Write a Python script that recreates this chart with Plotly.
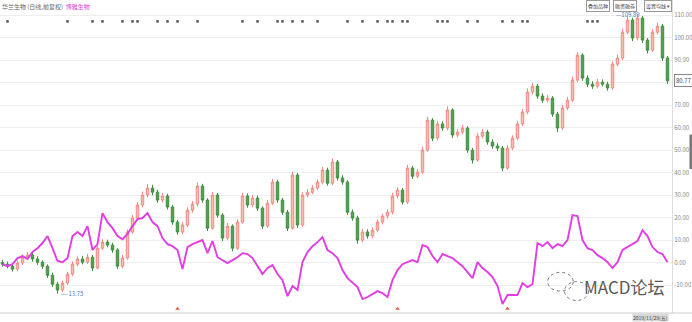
import plotly.graph_objects as go

# ---------------- data ----------------
price_open = [0.0, -0.7, -1.6, -2.9, -0.2, 2.4, 3.3, 1.6, 0.2, -1.6,
 -5.6, -9.6, -12.2, -9.1, -5.1, -0.7, 1.6, 0.2, 2.4, -2.4,
 6.4, 9.1, 7.8, 5.6, -1.6, 2.0, 13.6, 19.8, 25.6, 30.0,
 33.1, 31.3, 27.8, 29.6, 24.7, 18.0, 13.6, 16.7, 23.3, 26.0,
 34.0, 27.8, 15.3, 30.0, 21.1, 10.9, 16.2, 6.4, 18.0, 29.6,
 25.6, 28.7, 24.2, 16.2, 26.4, 35.8, 27.8, 22.4, 15.3, 38.9,
 16.7, 30.0, 31.3, 33.1, 35.8, 41.1, 35.3, 44.7, 37.6, 35.8,
 22.4, 19.8, 10.0, 13.6, 11.8, 14.4, 18.0, 20.7, 22.4, 29.6,
 32.2, 26.9, 42.0, 38.4, 40.2, 50.0, 63.3, 55.3, 61.6, 59.8,
 67.8, 56.7, 58.0, 59.8, 50.0, 45.6, 56.2, 58.0, 53.6, 51.8,
 50.9, 42.0, 50.9, 55.3, 61.6, 66.9, 75.8, 78.4, 74.0, 72.2,
 73.1, 66.0, 59.8, 68.7, 72.2, 81.1, 92.2, 82.0, 79.3, 78.4,
 80.2, 79.3, 77.6, 88.2, 90.9, 102.4, 107.8, 99.8, 108.7, 98.9,
 94.4, 102.4, 105.1, 90.9]

price_close = [-0.7, -1.6, -2.9, -0.2, 2.4, 3.3, 1.6, 0.2, -1.6, -5.6,
 -9.6, -12.2, -9.1, -5.1, -0.7, 1.6, 0.2, 2.4, -2.4, 6.4,
 9.1, 7.8, 5.6, -1.6, 2.0, 13.6, 19.8, 25.6, 30.0, 33.1,
 31.3, 27.8, 29.6, 24.7, 18.0, 13.6, 16.7, 23.3, 26.0, 34.0,
 27.8, 15.3, 30.0, 21.1, 10.9, 16.2, 6.4, 18.0, 29.6, 25.6,
 28.7, 24.2, 16.2, 26.4, 35.8, 27.8, 22.4, 15.3, 38.9, 16.7,
 30.0, 31.3, 33.1, 35.8, 41.1, 35.3, 44.7, 37.6, 35.8, 22.4,
 19.8, 10.0, 13.6, 11.8, 14.4, 18.0, 20.7, 22.4, 29.6, 32.2,
 26.9, 42.0, 38.4, 40.2, 50.0, 63.3, 55.3, 61.6, 59.8, 67.8,
 56.7, 58.0, 59.8, 50.0, 45.6, 56.2, 58.0, 53.6, 51.8, 50.9,
 42.0, 50.9, 55.3, 61.6, 66.9, 75.8, 78.4, 74.0, 72.2, 73.1,
 66.0, 59.8, 68.7, 72.2, 81.1, 92.2, 82.0, 79.3, 78.4, 80.2,
 79.3, 77.6, 88.2, 90.9, 102.4, 107.8, 99.8, 108.7, 98.9, 94.4,
 102.4, 105.1, 90.9, 80.77]

price_high = [1.2, 0.5, -0.8, 1.0, 3.6, 4.8, 4.2, 2.8, 1.0, -0.8,
 -4.5, -8.6, -8.0, -4.0, 0.6, 2.8, 3.0, 3.8, 3.4, 7.6,
 10.4, 10.2, 8.8, 6.4, 3.4, 14.8, 21.2, 27.0, 31.6, 34.8,
 34.6, 32.4, 31.0, 30.6, 25.6, 19.0, 18.0, 24.6, 27.4, 35.6,
 35.0, 28.6, 31.4, 31.0, 22.0, 17.6, 17.0, 19.4, 31.0, 30.8,
 30.0, 29.8, 25.0, 27.8, 37.2, 36.8, 28.8, 23.4, 40.4, 39.8,
 31.2, 32.6, 34.4, 37.0, 42.6, 42.2, 46.4, 45.6, 38.8, 36.6,
 23.6, 20.8, 15.0, 14.8, 15.6, 19.2, 21.8, 23.6, 31.0, 33.6,
 33.2, 43.4, 43.0, 41.6, 51.4, 64.8, 64.2, 63.0, 62.8, 69.4,
 68.6, 59.4, 61.2, 60.6, 51.0, 57.6, 59.4, 59.0, 54.8, 53.0,
 51.8, 52.2, 56.6, 63.0, 68.2, 77.4, 79.8, 79.4, 75.2, 74.4,
 74.0, 67.0, 70.0, 73.6, 82.6, 93.6, 93.0, 83.2, 80.6, 81.6,
 81.4, 80.4, 89.6, 92.4, 104.0, 109.4, 108.8, 110.2, 109.6, 99.8,
 103.8, 106.6, 106.0, 91.8]

price_low = [-1.8, -2.6, -4.0, -3.8, -1.0, 1.6, 0.4, -1.0, -2.8, -6.8,
 -10.8, -13.8, -13.0, -10.0, -6.0, -1.6, -0.8, -0.6, -3.8, -3.0,
 5.6, 6.8, 4.4, -2.8, -2.6, 1.2, 12.8, 18.8, 24.6, 29.0,
 30.0, 26.6, 26.8, 23.6, 16.8, 12.4, 12.6, 15.8, 22.2, 25.0,
 26.6, 14.0, 14.6, 20.0, 9.6, 10.0, 5.0, 5.6, 17.2, 24.4,
 24.6, 23.0, 15.0, 15.4, 25.6, 26.6, 21.2, 14.0, 14.6, 15.4,
 15.8, 29.0, 30.4, 32.2, 34.8, 34.2, 34.4, 36.4, 34.6, 21.2,
 18.6, 8.4, 9.0, 10.6, 10.8, 13.4, 17.0, 19.6, 21.4, 28.6,
 25.8, 26.0, 37.2, 37.4, 39.4, 49.2, 54.0, 54.4, 58.6, 58.8,
 55.4, 55.6, 57.0, 48.8, 44.0, 44.8, 55.2, 52.4, 50.6, 49.6,
 40.6, 41.2, 50.0, 54.4, 60.6, 66.0, 74.8, 72.8, 71.0, 71.2,
 64.8, 58.0, 59.0, 67.8, 71.4, 80.2, 80.8, 78.0, 77.2, 77.4,
 78.2, 76.4, 76.8, 87.2, 90.0, 101.4, 98.4, 98.8, 97.6, 93.0,
 93.6, 101.4, 89.6, 79.4]

compare_line = [-0.7, -1.6, -0.7, 2.0, 2.9, 1.6, 4.7, 6.4, 8.7, 11.8,
 6.4, 0.7, 0.2, 2.0, 11.8, 13.6, 11.8, 16.2, 5.6, 8.2,
 22.0, 18.0, 15.3, 11.8, 10.4, 12.7, 16.2, 19.3, 19.8, 22.0,
 18.0, 16.2, 10.9, 8.2, 7.3, 5.6, -2.9, 6.9, 8.2, 9.1,
 10.0, 4.2, 9.6, 2.4, 1.1, -0.2, 1.1, 2.4, 4.2, 3.8,
 2.0, -1.6, -5.1, -2.4, -1.1, -5.1, -7.8, -14.9, -10.4, -12.2,
 0.2, 4.7, 7.3, 9.1, 11.3, 5.6, 4.2, 2.0, -3.3, -6.9,
 -8.7, -10.9, -16.2, -15.3, -14.0, -12.7, -13.6, -15.3, -7.8, -3.3,
 -0.7, 0.2, 1.1, 0.2, 7.8, 6.9, 2.9, 0.2, 3.8, 2.9,
 2.0, 0.2, -1.6, -4.2, -6.9, 0.2, -2.4, -4.2, -6.4, -10.4,
 -18.4, -14.4, -14.4, -14.4, -9.1, -10.9, -9.6, 8.7, 7.3, 9.1,
 6.4, 8.2, 7.3, 10.0, 21.1, 20.7, 10.0, 6.4, 5.6, 3.3,
 2.0, 0.2, -2.4, 0.2, 5.6, 6.9, 8.2, 9.6, 14.4, 11.8,
 6.9, 4.7, 3.8, 0.2]

bar_index = list(range(len(price_close)))

event_top_idx = [1, 13, 18, 20, 24, 26, 27, 31, 33, 35, 39, 48, 51, 55, 56, 58, 60, 63,
                 69, 72, 75, 77, 78, 80, 81, 87, 88, 89, 93, 95, 100, 102, 104, 105,
                 117, 118, 119]
event_bottom_idx = [35, 79, 101]

y_ticks = [-10, 0, 10, 20, 30, 40, 50, 60, 70, 80, 90, 100, 110]
y_tick_text = ["-10.00", "0.00", "10.00", "20.00", "30.00", "40.00", "50.00",
               "60.00", "70.00", "", "90.00", "100.00", "110.00"]

title_main = "华兰生物 (日线,前复权)"
title_compare = "博雅生物"
max_label = "109.89"
min_label = "-13.75"
last_label = "80.77"
date_label = "2019/11/29(五)"
buttons = ["叠加品种", "融资融券", "设置均线 ▾"]

FONT = "Noto Sans CJK SC, Noto Sans, sans-serif"

fig = go.Figure()

fig.add_trace(go.Candlestick(
    x=bar_index, open=price_open, high=price_high, low=price_low, close=price_close,
    increasing=dict(line=dict(color="#ee8c84", width=1), fillcolor="#f6bcb6"),
    decreasing=dict(line=dict(color="#3f8f3f", width=1), fillcolor="#55a055"),
    whiskerwidth=0, showlegend=False, hoverinfo="skip"))

fig.add_trace(go.Scatter(
    x=bar_index, y=compare_line, mode="lines",
    line=dict(color="#e23de2", width=1.9), showlegend=False, hoverinfo="skip"))

fig.add_trace(go.Scatter(
    x=event_top_idx, y=[107.2] * len(event_top_idx), mode="markers",
    marker=dict(symbol="square", size=2.5, color="#555555"),
    showlegend=False, hoverinfo="skip"))

fig.add_trace(go.Scatter(
    x=event_bottom_idx, y=[-20.5] * len(event_bottom_idx), mode="markers",
    marker=dict(symbol="triangle-up", size=4, color="#e05a3a"),
    showlegend=False, hoverinfo="skip"))

annotations = [
    dict(xref="paper", yref="paper", x=0.0, y=1.0, xanchor="left", yanchor="top",
         text=title_main + "  <span style='color:#e040e0'>" + title_compare + "</span>",
         showarrow=False, font=dict(family=FONT, size=6, color="#666666")),
    dict(x=127, y=110.2, xref="x", yref="y", text="—" + max_label, showarrow=False,
         xanchor="right", yanchor="middle", xshift=4,
         font=dict(family=FONT, size=6, color="#4a7fb5")),
    dict(x=11, y=-13.8, xref="x", yref="y", text="—" + min_label, showarrow=False,
         xanchor="left", yanchor="middle", xshift=1,
         font=dict(family=FONT, size=6, color="#4a7fb5")),
    dict(xref="paper", x=1.0, y=80.77, yref="y", text=last_label, showarrow=False,
         xanchor="left", yanchor="middle", xshift=2,
         bordercolor="#888888", borderwidth=1, borderpad=1, bgcolor="#ffffff",
         font=dict(family=FONT, size=6, color="#444444")),
    dict(xref="paper", yref="paper", x=0.995, y=-0.029, xanchor="right", yanchor="bottom",
         text=date_label, showarrow=False, bgcolor="#d9d9d9", borderpad=0,
         font=dict(family=FONT, size=5, color="#444444")),
    dict(xref="paper", yref="paper", x=0.993, y=0.085, xanchor="right", yanchor="middle",
         text="MACD论坛", showarrow=False,
         font=dict(family=FONT, size=17, color="#5a5a5a")),
]
bx = [0.872, 0.912, 0.958]
for b, xx in zip(buttons, bx):
    annotations.append(dict(xref="paper", yref="paper", x=xx, y=1.0, xanchor="left",
                            yanchor="top", text=b, showarrow=False,
                            bordercolor="#999999", borderwidth=1, borderpad=1,
                            bgcolor="#ffffff",
                            font=dict(family=FONT, size=5, color="#444444")))

shapes = [
    dict(type="circle", xref="paper", yref="paper", x0=0.815, x1=0.853, y0=0.07, y1=0.13,
         line=dict(color="#777777", width=1, dash="dot")),
    dict(type="circle", xref="paper", yref="paper", x0=0.84, x1=0.876, y0=0.04, y1=0.10,
         line=dict(color="#777777", width=1, dash="dot")),
    dict(type="line", xref="paper", yref="paper", x0=0, x1=1.03, y0=0, y1=0,
         line=dict(color="#cccccc", width=1)),
    dict(type="rect", xref="paper", yref="paper", x0=1.026, x1=1.03, y0=0.46, y1=0.57,
         line=dict(width=0), fillcolor="#777777"),
]

fig.update_layout(
    width=692, height=322,
    margin=dict(l=0, r=20, t=0, b=9),
    paper_bgcolor="#ffffff", plot_bgcolor="#ffffff",
    font=dict(family=FONT),
    boxgap=0.3,
    annotations=annotations, shapes=shapes,
    xaxis=dict(range=[-0.5, 133.9], showgrid=False, zeroline=False, showticklabels=False,
               rangeslider=dict(visible=False), showline=False, fixedrange=True),
    yaxis=dict(side="right", range=[-22.4, 116.7], tickvals=y_ticks, ticktext=y_tick_text,
               showgrid=True, gridcolor="#eeeeee", gridwidth=1, zeroline=False,
               tickfont=dict(size=6, color="#888888"), ticks="", ticklabelposition="outside",
               showline=True, linecolor="#dddddd", linewidth=1, fixedrange=True),
)

fig.write_html("out.html")
